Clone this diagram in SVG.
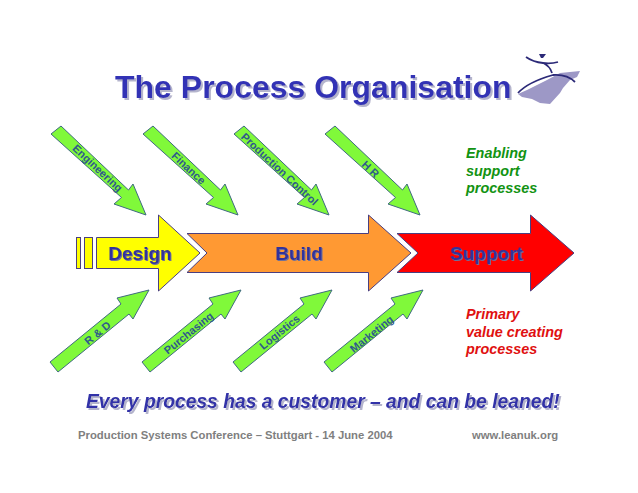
<svg xmlns="http://www.w3.org/2000/svg" width="638" height="493" viewBox="0 0 638 493">
<style>
text{font-family:"Liberation Sans",Arial,sans-serif;font-weight:bold}
.down,.up{fill:#80f93a;stroke:#3f6a80;stroke-width:1}
.main{stroke:#4a3f80;stroke-width:1;stroke-linejoin:miter}
.lab{font-size:11px;fill:#2f5a8c;text-anchor:middle}
.stage{font-size:19px;fill:#33339c;text-anchor:middle;filter:url(#s1)}
.note{font-size:14.400px;font-style:italic}
.foot{font-size:11.300px;fill:#7f7f7f}
</style>
<defs>
<filter id="s1" x="-10%" y="-20%" width="125%" height="150%"><feDropShadow dx="1" dy="1" stdDeviation="0.3" flood-color="#70709a"/></filter>
<filter id="s2" x="-5%" y="-20%" width="110%" height="150%"><feDropShadow dx="2" dy="2" stdDeviation="0.6" flood-color="#b4b4cc"/></filter>
<path id="arrow-down" class="down" d="M0 0L-32 -11L-24.500 -17.500L-95 -81L-85 -89L-17.500 -25L-13 -31Z"/>
<path id="arrow-up" class="up" d="M0 0L-32 8L-28 14L-99 72L-91 82L-20 24L-16 29Z"/>
</defs>
<rect width="638" height="493" fill="#fff"/>
<g id="title"><text x="115" y="98" font-size="32" fill="#3333b5" filter="url(#s2)">The Process Organisation</text></g>
<g id="logo">
<path fill="#9d98c6" d="M518 94L527 90L537 85L547 80L560 73L580 71L577 77L570 80L563 88L560 93L550 104L540 103L532 99L522 97Z"/>
<path fill="none" stroke="#2c2a78" stroke-width="1.800" d="M518 93Q528 82 553 75Q567 74 575 82"/>
<path fill="none" stroke="#2c2a78" stroke-width="1.800" d="M526 57Q533 62 543 63Q551 64 558 62M543 63Q550 66 552 73"/>
<path fill="#2c2a78" d="M539 54L546 54L543 58L541 58Z"/>
</g>
<g id="support-arrows">
<g id="engineering"><use href="#arrow-down" x="146" y="215"/><text class="lab" transform="translate(95 171) rotate(43)">Engineering</text></g>
<g id="finance"><use href="#arrow-down" x="238" y="215"/><text class="lab" transform="translate(186 171) rotate(43)">Finance</text></g>
<g id="production-control"><use href="#arrow-down" x="329" y="215"/><text class="lab" transform="translate(277 172) rotate(43)">Production Control</text></g>
<g id="hr"><use href="#arrow-down" x="420" y="215"/><text class="lab" transform="translate(368 172) rotate(43)">H R</text></g>
<g id="rd"><use href="#arrow-up" x="149" y="290"/><text class="lab" transform="translate(100 336) rotate(-39)">R &amp; D</text></g>
<g id="purchasing"><use href="#arrow-up" x="241" y="290"/><text class="lab" transform="translate(191 336) rotate(-39)">Purchasing</text></g>
<g id="logistics"><use href="#arrow-up" x="332" y="290"/><text class="lab" transform="translate(282 335) rotate(-39)">Logistics</text></g>
<g id="marketing"><use href="#arrow-up" x="423" y="290"/><text class="lab" transform="translate(374 337) rotate(-39)">Marketing</text></g>
</g>
<g id="design">
<rect class="main" x="76.500" y="237.500" width="4" height="31" fill="#ffff00"/>
<rect class="main" x="84.500" y="237.500" width="8" height="31" fill="#ffff00"/>
<path class="main" fill="#ffff00" d="M96.500 237.500H158.500V215L200 253L158.500 291V268.500H96.500Z"/>
<text class="stage" x="140" y="260">Design</text>
</g>
<g id="build">
<path class="main" fill="#ff9933" d="M187 233.500H368.500V215L411 253L368.500 291V272.500H187L207 253Z"/>
<text class="stage" x="299" y="260">Build</text>
</g>
<g id="support">
<path class="main" fill="#ff0000" d="M397 233.500H530.500V215L574 253L530.500 291V272.500H397L418 253Z"/>
<text class="stage" x="486.500" y="260">Support</text>
</g>
<g id="notes">
<g fill="#129312"><text class="note" x="466" y="158">Enabling</text><text class="note" x="466" y="176">support</text><text class="note" x="466" y="193">processes</text></g>
<g fill="#e01010"><text class="note" x="466" y="319">Primary</text><text class="note" x="466" y="337">value creating</text><text class="note" x="466" y="354">processes</text></g>
</g>
<g id="footer">
<text x="86" y="408" font-size="19.300" font-style="italic" fill="#3333a8" filter="url(#s2)">Every process has a customer – and can be leaned!</text>
<text class="foot" x="78" y="439">Production Systems Conference – Stuttgart - 14 June 2004</text>
<text class="foot" x="472" y="439">www.leanuk.org</text>
</g>
</svg>
